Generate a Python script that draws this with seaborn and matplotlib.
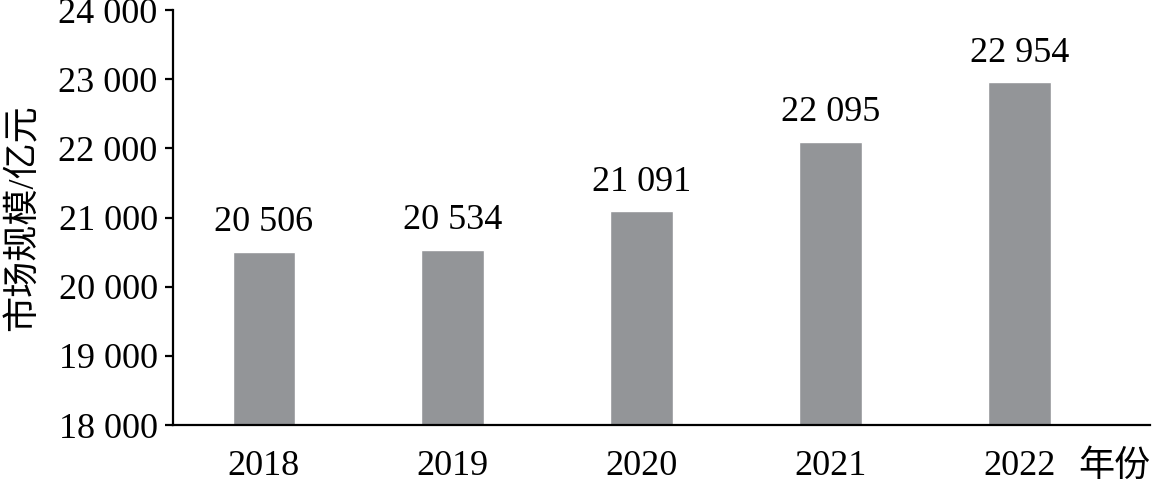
import matplotlib
matplotlib.use('Agg')
import matplotlib.pyplot as plt
import seaborn as sns
import pandas as pd

# Data
years = ['2018', '2019', '2020', '2021', '2022']
market_size = [20506, 20534, 21091, 22095, 22954]
y_ticks = [18000, 19000, 20000, 21000, 22000, 23000, 24000]

sns.set_style('white')
plt.rcParams['font.family'] = ['Liberation Serif', 'Noto Sans CJK SC']
plt.rcParams['axes.unicode_minus'] = False
plt.rcParams['text.color'] = 'black'
plt.rcParams['xtick.color'] = 'black'
plt.rcParams['ytick.color'] = 'black'
plt.rcParams['axes.labelcolor'] = 'black'

FS = 26

def fmt(v):
    return f"{v:,}".replace(',', ' ')

df = pd.DataFrame({'year': years, 'size': market_size})

fig = plt.figure(figsize=(11.57, 4.82), dpi=100)
ax = fig.add_axes([0.1495, 0.118, 0.8445, 0.861])

sns.barplot(data=df, x='year', y='size', color='#939598', width=0.33,
            saturation=1, ax=ax)

ax.set_ylim(18000, 24000)
ax.set_xlim(-0.48, 4.69)
ax.set_yticks(y_ticks)
ax.set_yticklabels([fmt(t) for t in y_ticks])

ax.bar_label(ax.containers[0], labels=[fmt(v) for v in market_size],
             padding=9, fontsize=FS)

for side in ['top', 'right']:
    ax.spines[side].set_visible(False)
for side in ['left', 'bottom']:
    ax.spines[side].set_linewidth(1.6)
    ax.spines[side].set_color('black')

ax.tick_params(axis='y', direction='out', length=6, width=1.6,
               labelsize=FS, pad=5, left=True)
ax.tick_params(axis='x', length=0, labelsize=FS, pad=18)

ax.set_ylabel('市场规模/亿元', fontsize=FS)
ax.yaxis.set_label_coords(-0.135, 0.5)
ax.set_xlabel('年份', fontsize=FS, ha='right')
ax.xaxis.set_label_coords(1.0, -0.06)
ax.xaxis.label.set_va('top')

fig.savefig('out.png', dpi=100)
